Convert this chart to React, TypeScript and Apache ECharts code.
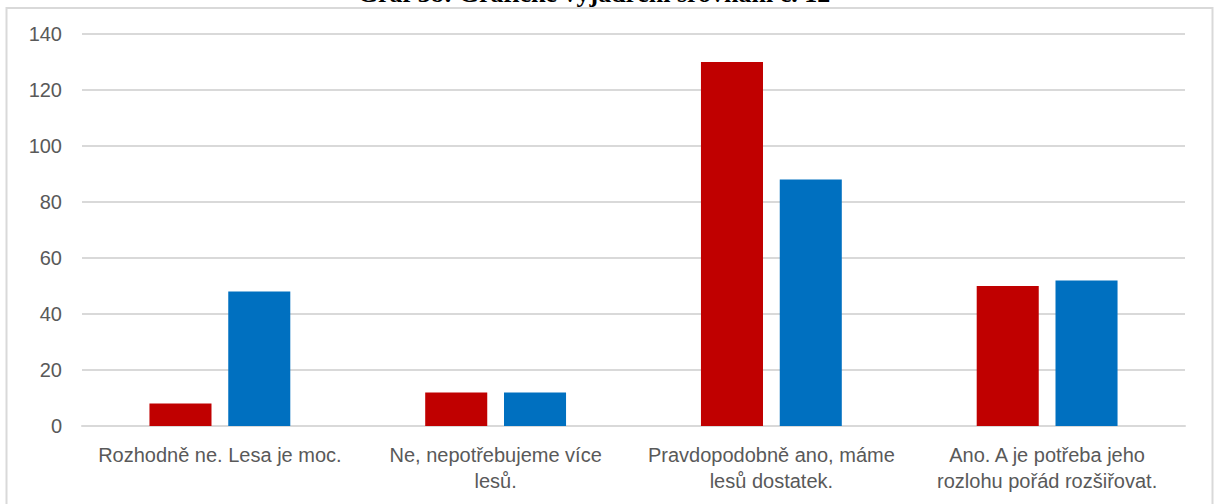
import React, { useEffect, useRef } from "react";
import * as echarts from "echarts";

const title = "Graf 38: Grafické vyjádření srovnání č. 12";
const categories = [
  "Rozhodně ne. Lesa je moc.",
  "Ne, nepotřebujeme více\nlesů.",
  "Pravdopodobně ano, máme\nlesů dostatek.",
  "Ano. A je potřeba jeho\nrozlohu pořád rozšiřovat.",
];
const seriesNames = ["Řada 1", "Řada 2"];
const seriesA = [8, 12, 130, 50];
const seriesB = [48, 12, 88, 52];
const yTicks = { min: 0, max: 140, interval: 20 };

export default function App() {
  const ref = useRef<HTMLDivElement>(null);
  useEffect(() => {
    if (!ref.current) return;
    const chart = echarts.init(ref.current, null, { renderer: "svg" });
    const labelFont = "'Liberation Sans', Arial, sans-serif";
    chart.setOption({
      animation: false,
      backgroundColor: "#ffffff",
      graphic: [
        {
          type: "rect",
          shape: { x: 6.5, y: 8, width: 1206, height: 520 },
          style: { fill: "none", stroke: "#d9d9d9", lineWidth: 2 },
          silent: true,
        },
        {
          type: "text",
          x: 594,
          y: -7,
          style: {
            text: title,
            font: "bold 26px 'Liberation Serif', 'Times New Roman', serif",
            fill: "#000000",
            align: "center",
            verticalAlign: "middle",
          },
          silent: true,
        },
      ],
      grid: { left: 82, right: 32, top: 34, bottom: 78, containLabel: false },
      xAxis: {
        type: "category",
        data: categories,
        axisLine: { show: true, lineStyle: { color: "#d9d9d9", width: 2 } },
        axisTick: { show: false },
        axisLabel: {
          color: "#595959",
          fontFamily: labelFont,
          fontSize: 20,
          lineHeight: 26,
          margin: 16,
          interval: 0,
        },
      },
      yAxis: {
        type: "value",
        min: yTicks.min,
        max: yTicks.max,
        interval: yTicks.interval,
        axisLine: { show: false },
        axisTick: { show: false },
        splitLine: { lineStyle: { color: "#d9d9d9", width: 2 } },
        axisLabel: {
          color: "#595959",
          fontFamily: labelFont,
          fontSize: 20,
          margin: 20,
        },
      },
      series: [
        {
          name: seriesNames[0],
          type: "bar",
          data: seriesA,
          barWidth: "22.5%",
          barGap: "27%",
          itemStyle: { color: "#c00000" },
        },
        {
          name: seriesNames[1],
          type: "bar",
          data: seriesB,
          barWidth: "22.5%",
          barGap: "27%",
          itemStyle: { color: "#0070c0" },
        },
      ],
    });
    return () => chart.dispose();
  }, []);
  return (
    <div
      ref={ref}
      style={{ position: "absolute", left: 0, top: 0, width: 1217, height: 504 }}
    />
  );
}
